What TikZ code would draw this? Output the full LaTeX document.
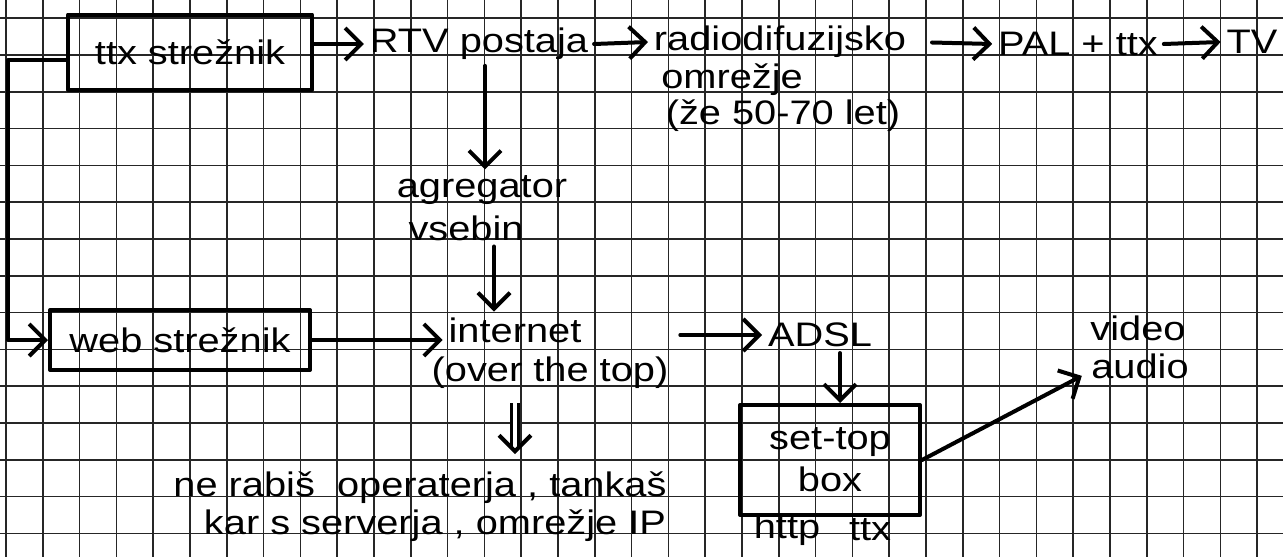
\documentclass[tikz,border=0pt]{standalone}
\usepackage{fontspec}
\setmainfont{Liberation Sans}[FakeStretch=1.17]
\usetikzlibrary{arrows.meta,calc}
\begin{document}
\begin{tikzpicture}[x=0.5pt,y=-0.5pt,
  gridline/.style={line width=0.75pt, black!85},
  ink/.style={line width=2pt, line cap=round, line join=round},
  tip/.style={-{Straight Barb[length=8pt,width=16pt,line width=2pt]}},
  arr/.style={ink, tip},
  dbl/.style={line width=1.4pt, double, double distance=2.2pt, tip},
  lbl/.style={font=\fontsize{17}{17}\selectfont, inner sep=0pt, outer sep=3pt, align=center},
  boxnode/.style={ink, draw, rectangle, inner sep=0pt, font=\fontsize{17}{17}\selectfont}
]
\useasboundingbox (0,0) rectangle (1283,557);
\fill[white] (0,0) rectangle (1283,557);
\foreach \i in {0,...,34} \draw[gridline] (6+36.8*\i,0) -- (6+36.8*\i,557);
\foreach \j in {0,...,14} \draw[gridline] (0,18.2+36.8*\j) -- (1283,18.2+36.8*\j);

% boxes
\node[boxnode, minimum width=122pt, minimum height=37.5pt] (ttx) at (190,52) {ttx strežnik};
\node[boxnode, minimum width=130pt, minimum height=30pt] (web) at (180,340) {web strežnik};
\node[boxnode, minimum width=90pt, minimum height=55pt, align=center] (stb) at (830,460) {set-top\\[4pt]box};

% labels
\node[lbl] (rtv) at (479,44) {RTV postaja};
\node[lbl] (radio) at (780,42) {radiodifuzijsko};
\node[lbl] (omr) at (732,80) {omrežje};
\node[lbl] (let) at (783,116) {(že 50-70 let)};
\node[lbl] (pal) at (1078,44) {PAL + ttx};
\node[lbl] (tv) at (1252,42) {TV};
\node[lbl] (agr) at (482,190) {agregator};
\node[lbl] (vseb) at (466,228) {vsebin};
\node[lbl] (inet) at (515,330) {internet};
\node[lbl] (over) at (550,373) {(over the top)};
\node[lbl] (adsl) at (820,335) {ADSL};
\node[lbl] (video) at (1138,328) {video};
\node[lbl] (audio) at (1140,366) {audio};
\node[lbl] (http) at (787,530) {http};
\node[lbl] (ttxb) at (870,530) {ttx};
\node[lbl] (ne) at (420,488) {ne rabiš \ operaterja , tankaš};
\node[lbl] (kar) at (435,526) {kar s serverja , omrežje IP};

% connectors
\draw[arr] (ttx.east |- rtv.west) -- (rtv.west);
\draw[arr] (rtv.east) -- (radio.west);
\draw[arr, shorten <=10pt] (radio.east) -- (pal.west);
\draw[arr] (pal.east) -- (tv.west);
\draw[arr] ([xshift=3pt]rtv.south) -- ([xshift=3pt]rtv.south |- agr.north);
\draw[arr] ([xshift=14pt]vseb.south) -- ([xshift=14pt]vseb.south |- inet.north);
\draw[arr] ([yshift=-4pt]ttx.west) -- ++(-58,0) |- (web.west);
\draw[arr] (web.east) -- (web.east -| inet.west);
\draw[arr, shorten <=3pt] (over.east |- adsl.west) -- (adsl.west);
\draw[arr] ([xshift=10pt]adsl.south) -- ([xshift=10pt]adsl.south |- stb.north);
\draw[arr, shorten >=2pt] (stb.east) -- ([yshift=-4pt]audio.west);
\draw[dbl, shorten <=4pt, shorten >=6pt] (inet.south |- over.south) -- (inet.south |- ne.north);
\end{tikzpicture}
\end{document}
